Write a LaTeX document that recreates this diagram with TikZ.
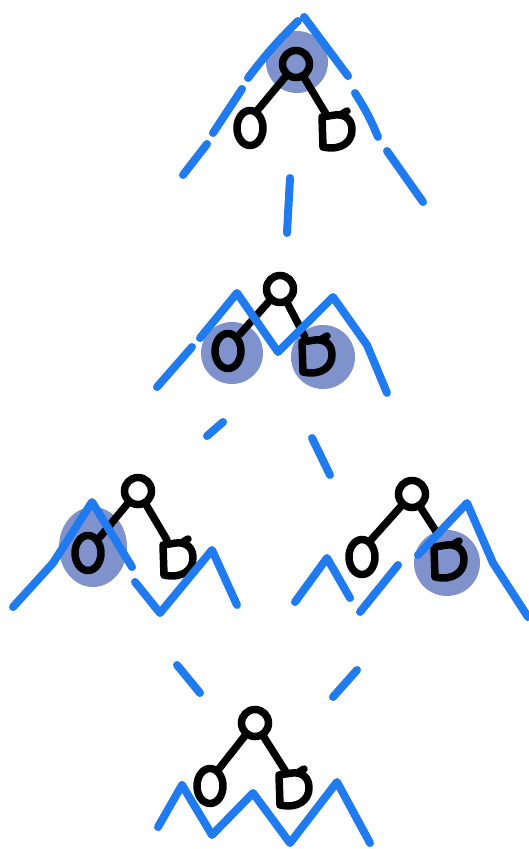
\documentclass[tikz,border=0pt]{standalone}
\definecolor{myblue}{RGB}{32,122,240}
\definecolor{myshade}{RGB}{128,146,204}
\tikzset{
  blu/.style={draw=myblue, line width=8pt, line cap=round, line join=round},
  blk/.style={draw=black, line width=7.5pt, line cap=round, line join=round},
  shadefill/.style={fill=myshade, draw=none},
  rootc/.style={circle, draw=black, line width=7.5pt, minimum size=27pt, inner sep=0pt, outer sep=0pt},
}
\newcommand\zerokid[2]{\draw[blk] (#1,#2) ellipse [x radius=13pt, y radius=17.5pt];}
\newcommand\dkid[2]{\begin{scope}[shift={(#1,#2)}]
  \draw[blk] (-13,-13) -- (-12,17) .. controls (6,21) and (17,12) .. (17,0)
     .. controls (17,-10) and (11,-16) .. (0,-15) -- (-13,-13);
  \draw[blk] (7,-16) -- (12,-19);
\end{scope}}
\begin{document}
\begin{tikzpicture}[x=1pt,y=-1pt]
\useasboundingbox (0,0) rectangle (529,849);
\fill[white] (0,0) rectangle (529,849);

% ---------- panel 1 ----------
\fill[shadefill] (297,62) circle [radius=31pt];
\node[rootc] (r1) at (296,64) {};
\zerokid{250}{128}
\dkid{335}{130}
\coordinate (a1) at (256,112);
\coordinate (b1) at (326,114);
\draw[blk] (r1) -- (a1);
\draw[blk] (r1) -- (b1);
\draw[blu] (298,21) to[bend right=4] (248,78);
\draw[blu] (242,89) -- (213,133);
\draw[blu] (207,144) -- (183,175);
\draw[blu] (304,17) -- (348,76);
\draw[blu] (355,93) to[bend left=5] (378,137);
\draw[blu] (387,151) -- (423,202);
\draw[blu] (290,178) -- (287,233);

% ---------- panel 2 ----------
\fill[shadefill] (232,353) circle [radius=31pt];
\fill[shadefill] (323,357) circle [radius=32pt];
\node[rootc] (r2) at (280,289) {};
\zerokid{228}{351}
\dkid{315}{355}
\coordinate (a2) at (240,334);
\coordinate (b2) at (305,337);
\draw[blk] (r2) -- (a2);
\draw[blk] (r2) -- (b2);
\draw[blu] (200,338) -- (237,293) -- (278,352) -- (333,297) -- (367,345) -- (387,393);
\draw[blu] (192,347) -- (157,387);
\draw[blu] (223,422) -- (207,436);
\draw[blu] (312,438) -- (330,475);

% ---------- panel 3 left ----------
\fill[shadefill] (93,547) ellipse [x radius=34pt, y radius=40pt];
\node[rootc] (r3) at (138,491) {};
\zerokid{88}{553}
\dkid{176}{558}
\coordinate (a3) at (100,537);
\coordinate (b3) at (167,540);
\draw[blk] (r3) -- (a3);
\draw[blk] (r3) -- (b3);
\draw[blu] (13,607) -- (53,563) -- (92,502) -- (132,567);
\draw[blu] (135,582) -- (160,613) -- (212,550) -- (237,605);

% ---------- panel 3 right ----------
\fill[shadefill] (447,563) circle [radius=33pt];
\node[rootc] (r4) at (412,494) {};
\zerokid{362}{557}
\dkid{447}{560}
\coordinate (a4) at (370,541);
\coordinate (b4) at (437,533);
\draw[blk] (r4) -- (a4);
\draw[blk] (r4) -- (b4);
\draw[blu] (295,602) -- (327,558) -- (350,598);
\draw[blu] (360,612) -- (398,565);
\draw[blu] (418,555) -- (467,503) -- (493,563) -- (528,617);

% ---------- panel 4 ----------
\draw[blu] (177,665) -- (200,693);
\draw[blu] (357,670) -- (333,697);
\node[rootc] (r5) at (255,723) {};
\zerokid{210}{786}
\dkid{292}{788}
\coordinate (a5) at (218,770);
\coordinate (b5) at (286,772);
\draw[blk] (r5) -- (a5);
\draw[blk] (r5) -- (b5);
\draw[blu] (158,827) -- (182,785) -- (212,835) -- (253,793) -- (290,843) -- (337,782) -- (370,843);
\end{tikzpicture}
\end{document}
